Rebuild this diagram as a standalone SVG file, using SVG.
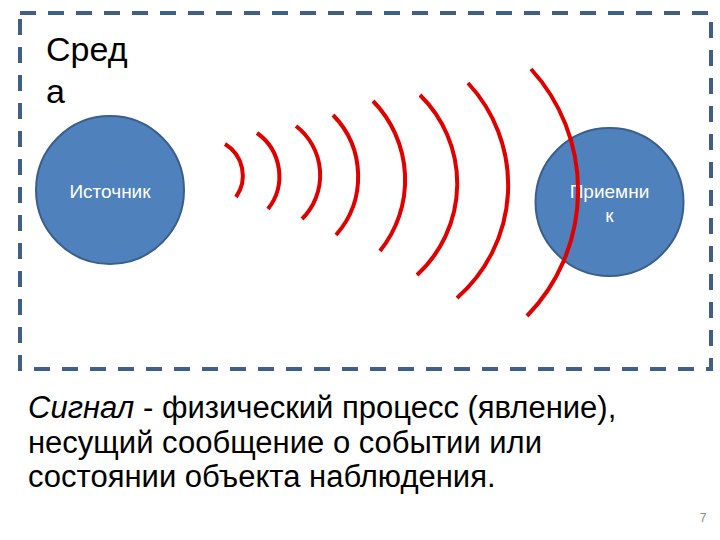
<svg xmlns="http://www.w3.org/2000/svg" width="720" height="540" viewBox="0 0 720 540">
<style>
.frame{fill:none;stroke:#3f5f86;stroke-width:4;stroke-dasharray:16 12}
.node{fill:#4f81bd;stroke:#3a5f8b;stroke-width:2}
.lbl{font-family:"Liberation Sans",Arial,sans-serif;font-size:19px;fill:#ffffff;text-anchor:middle}
.wave{fill:none;stroke:#e00000;stroke-width:4;stroke-linecap:butt}
.title{font-family:"Liberation Sans",Arial,sans-serif;font-size:34px;fill:#000}
.body{font-family:"Liberation Sans",Arial,sans-serif;font-size:31px;fill:#000}
</style>
<rect width="720" height="540" fill="#ffffff"/>
<rect class="frame" x="20" y="13" width="691" height="356"/>
<g id="sreda">
<text class="title" x="46" y="61">Сред</text>
<text class="title" x="46" y="103">а</text>
</g>
<g id="source">
<circle class="node" cx="110" cy="190" r="74"/>
<text class="lbl" x="110" y="198">Источник</text>
</g>
<g id="receiver">
<circle class="node" cx="609.5" cy="202" r="74"/>
<text class="lbl" x="609.5" y="198">Приемни</text>
<text class="lbl" x="609.5" y="222">к</text>
</g>
<g id="connectors">
<path class="wave" d="M225 144 A37 37 0 0 1 236 197"/>
<path class="wave" d="M257 133 A53 53 0 0 1 268 209"/>
<path class="wave" d="M296 126 A62 62 0 0 1 302 219"/>
<path class="wave" d="M333 115 A88 88 0 0 1 336 235"/>
<path class="wave" d="M373 101 A113 113 0 0 1 380 251"/>
<path class="wave" d="M420 95 A124 124 0 0 1 417 275"/>
<path class="wave" d="M468 83 A150 150 0 0 1 457 298"/>
<path class="wave" d="M531 69 A180 180 0 0 1 527 316"/>
</g>
<g id="caption">
<text class="body" x="28" y="418"><tspan font-style="italic">Сигнал</tspan> - физический процесс (явление),</text>
<text class="body" x="28" y="453">несущий сообщение о событии или</text>
<text class="body" x="28" y="487">состоянии объекта наблюдения.</text>
</g>
<text x="703" y="522" font-family="Liberation Sans,Arial,sans-serif" font-size="12" fill="#8c8c8c" text-anchor="middle">7</text>
</svg>
